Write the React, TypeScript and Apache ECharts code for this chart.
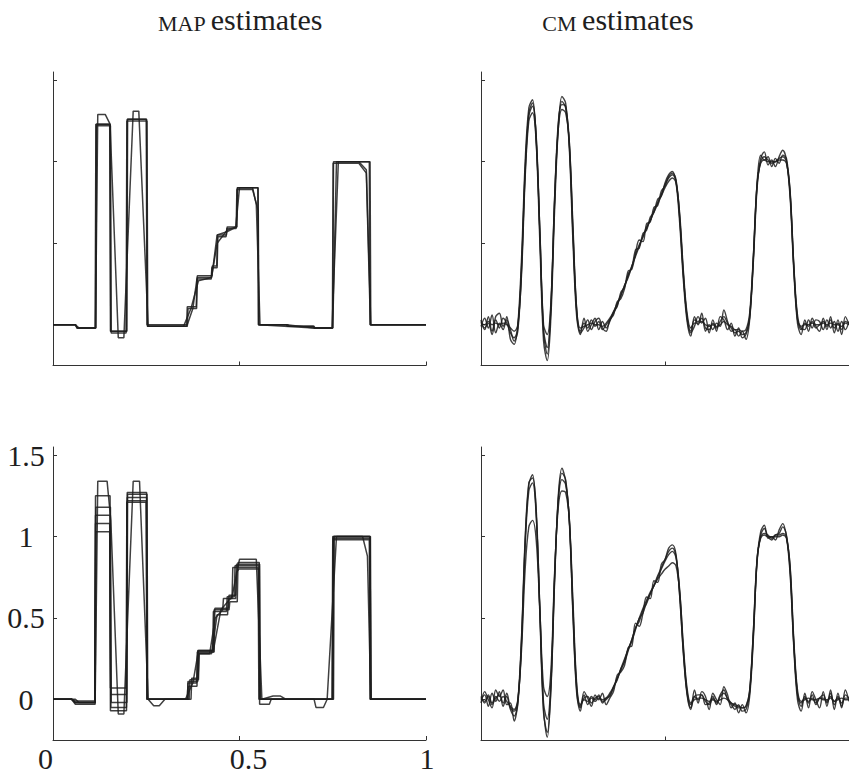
import React, { useEffect, useRef } from "react";
import * as echarts from "echarts";

// ---------- tick labels ----------
const X_TICKS = [0, 0.5, 1];
const Y_TICKS = [0, 0.5, 1, 1.5];
const X_LABELS = ["0", "0.5", "1"];
const Y_LABELS = ["0", "0.5", "1", "1.5"];
const TITLE_LEFT = "MAP";
const TITLE_RIGHT = "CM";
const TITLE_SUFFIX = "estimates";

// ---------- shared x grid for CM estimates ----------
const XS = [
  0.0, 0.01, 0.02, 0.03, 0.04, 0.05, 0.06, 0.07, 0.08, 0.09,
  0.1, 0.11, 0.12, 0.13, 0.14, 0.15, 0.16, 0.17, 0.18, 0.19,
  0.2, 0.21, 0.22, 0.23, 0.24, 0.25, 0.26, 0.27, 0.28, 0.29,
  0.3, 0.31, 0.32, 0.33, 0.34, 0.35, 0.36, 0.37, 0.38, 0.39,
  0.4, 0.41, 0.42, 0.43, 0.44, 0.45, 0.46, 0.47, 0.48, 0.49,
  0.5, 0.51, 0.52, 0.53, 0.54, 0.55, 0.56, 0.57, 0.58, 0.59,
  0.6, 0.61, 0.62, 0.63, 0.64, 0.65, 0.66, 0.67, 0.68, 0.69,
  0.7, 0.71, 0.72, 0.73, 0.74, 0.75, 0.76, 0.77, 0.78, 0.79,
  0.8, 0.81, 0.82, 0.83, 0.84, 0.85, 0.86, 0.87, 0.88, 0.89,
  0.9, 0.91, 0.92, 0.93, 0.94, 0.95, 0.96, 0.97, 0.98, 0.99, 1.0,
];

// ---------- CM estimates, top panel ----------
const cmTopA = [
  0.02, -0.03, 0.05, -0.04, 0.03, -0.02, 0.04, 0.01, -0.05, -0.08,
  -0.02, 0.35, 0.95, 1.3, 1.36, 1.15, 0.55, -0.05, -0.18, 0.1,
  0.75, 1.22, 1.37, 1.33, 1.1, 0.55, 0.08, -0.04, 0.01, -0.02,
  0.03, -0.01, 0.02, -0.03, 0.0, 0.03, 0.07, 0.12, 0.18, 0.24,
  0.29, 0.36, 0.43, 0.49, 0.54, 0.6, 0.64, 0.7, 0.75, 0.8,
  0.86, 0.9, 0.92, 0.88, 0.65, 0.3, 0.05, -0.04, 0.03, 0.02,
  0.04, -0.02, -0.03, 0.01, -0.02, 0.02, 0.05, 0.01, -0.02, -0.05,
  -0.04, -0.06, -0.05, 0.05, 0.4, 0.85, 1.0, 1.03, 1.01, 0.99,
  1.0, 1.02, 1.03, 1.0, 0.8, 0.35, 0.04, -0.03, 0.01, -0.01,
  0.02, -0.02, 0.0, 0.02, -0.01, 0.03, -0.02, 0.01, -0.03, 0.02, 0.01,
];
const cmTopB = [
  -0.01, 0.04, -0.02, 0.06, -0.05, 0.01, -0.03, 0.05, -0.09, -0.12,
  0.0, 0.4, 1.0, 1.33, 1.38, 1.12, 0.5, -0.1, -0.22, 0.05,
  0.7, 1.2, 1.4, 1.36, 1.08, 0.5, 0.05, -0.06, 0.04, -0.04,
  0.0, 0.04, -0.03, 0.02, -0.02, 0.02, 0.08, 0.11, 0.2, 0.23,
  0.31, 0.35, 0.46, 0.47, 0.56, 0.58, 0.66, 0.69, 0.77, 0.79,
  0.87, 0.92, 0.94, 0.87, 0.62, 0.27, 0.02, -0.07, 0.05, 0.0,
  0.07, -0.04, 0.0, -0.03, 0.01, -0.01, 0.09, 0.02, -0.04, -0.03,
  -0.07, -0.04, -0.09, 0.03, 0.38, 0.83, 1.02, 1.06, 0.98, 1.01,
  0.97, 1.03, 1.07, 1.01, 0.78, 0.33, 0.01, -0.06, 0.03, -0.04,
  0.04, -0.01, -0.04, 0.04, -0.03, 0.05, -0.05, 0.03, -0.06, 0.05, 0.0,
];
const cmTopC = [
  0.01, 0.0, 0.02, 0.0, 0.01, 0.0, 0.01, 0.0, -0.02, -0.04,
  0.0, 0.3, 0.9, 1.25, 1.3, 1.12, 0.58, 0.0, -0.06, 0.14,
  0.78, 1.2, 1.32, 1.3, 1.12, 0.6, 0.1, -0.02, -0.01, 0.0,
  0.01, 0.0, 0.0, -0.01, 0.01, 0.04, 0.08, 0.13, 0.18, 0.24,
  0.3, 0.36, 0.42, 0.48, 0.54, 0.59, 0.64, 0.69, 0.74, 0.79,
  0.84, 0.88, 0.9, 0.87, 0.68, 0.33, 0.07, -0.02, 0.01, 0.01,
  0.02, 0.0, -0.01, 0.0, -0.01, 0.0, 0.02, 0.0, -0.01, -0.03,
  -0.03, -0.04, -0.03, 0.07, 0.42, 0.86, 0.99, 1.01, 1.0, 1.0,
  1.0, 1.01, 1.01, 0.99, 0.82, 0.37, 0.06, -0.01, 0.0, 0.0,
  0.01, 0.0, 0.0, 0.01, 0.0, 0.01, 0.0, 0.0, -0.01, 0.01, 0.0,
];
const cmTopD = [
  0.03, -0.02, 0.01, -0.06, 0.05, 0.07, -0.01, 0.03, -0.03, -0.1,
  -0.04, 0.33, 0.93, 1.28, 1.34, 1.16, 0.57, -0.03, -0.14, 0.12,
  0.77, 1.24, 1.35, 1.34, 1.12, 0.57, 0.09, -0.05, -0.02, 0.03,
  -0.03, 0.02, 0.04, -0.02, -0.04, 0.03, 0.06, 0.14, 0.16, 0.22,
  0.33, 0.34, 0.44, 0.52, 0.51, 0.62, 0.63, 0.72, 0.73, 0.82,
  0.85, 0.91, 0.93, 0.89, 0.66, 0.31, 0.04, -0.05, -0.01, 0.05,
  0.01, 0.04, -0.05, 0.03, -0.04, 0.05, 0.03, -0.03, 0.01, -0.07,
  -0.02, -0.08, -0.06, 0.04, 0.41, 0.86, 1.04, 1.01, 1.03, 0.97,
  1.02, 0.99, 1.04, 1.02, 0.81, 0.36, 0.03, -0.02, -0.03, 0.03,
  -0.02, 0.03, 0.02, -0.03, 0.03, -0.02, 0.02, -0.04, 0.02, -0.03, 0.02,
];

// ---------- CM estimates, bottom panel ----------
const cmBotA = [
  0.0, 0.03, -0.04, 0.04, -0.01, 0.05, -0.04, 0.02, -0.06, -0.1,
  -0.03, 0.36, 0.97, 1.32, 1.38, 1.14, 0.52, -0.08, -0.2, 0.08,
  0.74, 1.23, 1.39, 1.35, 1.09, 0.53, 0.06, -0.05, 0.03, -0.03,
  0.02, 0.0, 0.03, -0.02, 0.01, 0.02, 0.08, 0.12, 0.19, 0.23,
  0.3, 0.37, 0.44, 0.48, 0.55, 0.59, 0.65, 0.7, 0.76, 0.81,
  0.86, 0.91, 0.93, 0.88, 0.64, 0.29, 0.04, -0.05, 0.02, 0.03,
  0.03, -0.03, -0.02, 0.02, -0.03, 0.03, 0.06, 0.0, -0.03, -0.06,
  -0.03, -0.07, -0.06, 0.04, 0.39, 0.84, 1.01, 1.05, 1.0, 0.98,
  1.01, 1.02, 1.06, 1.01, 0.79, 0.34, 0.03, -0.04, 0.02, -0.02,
  0.03, -0.03, 0.01, 0.03, -0.02, 0.04, -0.03, 0.02, -0.04, 0.03, 0.01,
];
const cmBotB = [
  0.01, -0.01, 0.03, -0.02, 0.02, -0.01, 0.02, -0.01, -0.04, -0.06,
  0.0, 0.3, 0.8, 1.06, 1.1, 0.98, 0.55, 0.08, 0.02, 0.18,
  0.78, 1.18, 1.28, 1.27, 1.1, 0.6, 0.1, -0.03, 0.0, -0.01,
  0.01, -0.01, 0.01, 0.0, 0.01, 0.04, 0.08, 0.13, 0.19, 0.25,
  0.31, 0.37, 0.44, 0.5, 0.56, 0.61, 0.66, 0.7, 0.74, 0.77,
  0.8, 0.82, 0.84, 0.82, 0.66, 0.33, 0.07, -0.02, 0.0, 0.01,
  0.01, 0.0, -0.01, 0.0, -0.01, 0.0, 0.01, 0.0, -0.02, -0.03,
  -0.04, -0.05, -0.04, 0.06, 0.42, 0.86, 0.99, 1.01, 1.0, 1.0,
  1.0, 1.0, 1.01, 0.99, 0.82, 0.37, 0.06, -0.01, 0.0, 0.01,
  0.0, 0.0, 0.01, 0.0, 0.0, 0.01, -0.01, 0.0, 0.01, 0.0, 0.0,
];
const cmBotC = [
  -0.02, 0.05, 0.0, -0.05, 0.06, 0.02, 0.06, -0.03, -0.02, -0.13,
  -0.01, 0.38, 0.99, 1.33, 1.36, 1.17, 0.54, -0.06, -0.23, 0.06,
  0.72, 1.25, 1.42, 1.34, 1.11, 0.51, 0.04, -0.07, 0.05, 0.01,
  -0.04, 0.03, 0.0, 0.04, -0.03, 0.01, 0.05, 0.15, 0.17, 0.21,
  0.32, 0.33, 0.47, 0.45, 0.53, 0.63, 0.62, 0.73, 0.72, 0.83,
  0.86, 0.93, 0.95, 0.89, 0.63, 0.28, 0.03, -0.06, 0.06, -0.02,
  0.05, 0.02, -0.06, 0.04, 0.0, -0.03, 0.08, 0.03, -0.05, -0.02,
  -0.08, -0.03, -0.08, 0.02, 0.37, 0.85, 1.03, 1.07, 0.99, 1.0,
  0.98, 1.04, 1.08, 1.0, 0.77, 0.32, 0.0, -0.07, 0.04, -0.05,
  0.05, 0.0, -0.05, 0.05, -0.04, 0.06, -0.06, 0.04, -0.05, 0.06, -0.01,
];
const cmBotD = [
  0.02, -0.02, 0.02, -0.03, 0.01, 0.03, -0.02, 0.04, -0.05, -0.07,
  -0.01, 0.34, 0.94, 1.28, 1.33, 1.13, 0.56, -0.02, -0.12, 0.11,
  0.76, 1.22, 1.35, 1.32, 1.11, 0.56, 0.08, -0.04, 0.01, 0.02,
  -0.02, 0.01, 0.02, -0.01, 0.0, 0.03, 0.07, 0.13, 0.18, 0.24,
  0.31, 0.36, 0.43, 0.5, 0.53, 0.6, 0.65, 0.7, 0.75, 0.8,
  0.85, 0.89, 0.91, 0.87, 0.67, 0.31, 0.05, -0.03, 0.02, 0.0,
  0.03, -0.01, -0.03, 0.01, -0.02, 0.02, 0.04, 0.01, -0.02, -0.04,
  -0.05, -0.05, -0.04, 0.05, 0.41, 0.85, 1.0, 1.02, 1.01, 0.99,
  1.01, 1.01, 1.02, 1.0, 0.81, 0.35, 0.04, -0.02, 0.01, -0.01,
  0.01, -0.02, 0.01, 0.01, -0.01, 0.02, -0.01, 0.01, -0.02, 0.01, 0.01,
];

// ---------- MAP estimates, top panel: [x, y] breakpoints ----------
const mapTopA = [
  [0, 0], [0.06, 0], [0.065, -0.02], [0.114, -0.02], [0.116, 1.23], [0.153, 1.23],
  [0.155, -0.04], [0.197, -0.04], [0.199, 1.26], [0.251, 1.26], [0.253, -0.01],
  [0.36, -0.01], [0.362, 0.1], [0.385, 0.1], [0.387, 0.29], [0.425, 0.29],
  [0.427, 0.36], [0.439, 0.36], [0.441, 0.55], [0.465, 0.55], [0.467, 0.6],
  [0.492, 0.6], [0.494, 0.84], [0.55, 0.84], [0.552, 0], [0.626, 0], [0.628, -0.01],
  [0.698, -0.01], [0.7, -0.02], [0.75, -0.02], [0.752, 1.0], [0.85, 1.0], [0.852, 0], [1, 0],
];
const mapTopB = [
  [0, 0], [0.06, 0], [0.07, -0.02], [0.114, -0.02], [0.12, 1.29], [0.14, 1.29],
  [0.153, 1.23], [0.175, -0.08], [0.19, -0.08], [0.215, 1.31], [0.23, 1.31],
  [0.255, -0.01], [0.35, -0.01], [0.37, 0.1], [0.39, 0.27], [0.425, 0.29],
  [0.44, 0.5], [0.467, 0.58], [0.49, 0.6], [0.5, 0.84], [0.535, 0.84], [0.545, 0.74],
  [0.555, 0], [0.626, 0], [0.7, -0.02], [0.75, -0.02], [0.76, 1.0], [0.82, 1.0],
  [0.84, 0.95], [0.852, 0], [1, 0],
];
const mapTopC = [
  [0, 0], [0.06, 0], [0.065, -0.02], [0.113, -0.02], [0.115, 1.23], [0.152, 1.23],
  [0.154, -0.04], [0.198, -0.04], [0.2, 1.26], [0.25, 1.26], [0.252, 0], [0.36, 0],
  [0.375, 0.1], [0.387, 0.3], [0.426, 0.3], [0.44, 0.55], [0.466, 0.57], [0.493, 0.6],
  [0.495, 0.84], [0.549, 0.84], [0.551, 0], [0.7, -0.02], [0.748, -0.02], [0.765, 1.0],
  [0.848, 1.0], [0.85, 0], [1, 0],
];
const mapTopD = [
  [0, 0], [0.06, 0], [0.064, -0.02], [0.115, -0.02], [0.117, 1.22], [0.154, 1.22],
  [0.156, -0.05], [0.196, -0.05], [0.198, 1.25], [0.252, 1.25], [0.254, -0.01],
  [0.358, -0.01], [0.36, 0.11], [0.384, 0.11], [0.386, 0.28], [0.424, 0.28],
  [0.426, 0.35], [0.44, 0.35], [0.442, 0.54], [0.464, 0.54], [0.466, 0.59],
  [0.491, 0.59], [0.493, 0.83], [0.535, 0.83], [0.55, 0.7], [0.551, 0], [0.63, 0],
  [0.632, -0.01], [0.7, -0.01], [0.702, -0.02], [0.749, -0.02], [0.751, 0.99],
  [0.82, 0.99], [0.84, 0.93], [0.851, 0], [1, 0],
];

// ---------- MAP estimates, bottom panel ----------
const mapBotA = [
  [0, 0], [0.05, 0], [0.06, -0.02], [0.112, -0.02], [0.114, 1.25], [0.153, 1.25],
  [0.155, -0.05], [0.197, -0.05], [0.199, 1.27], [0.251, 1.27], [0.253, 0], [0.36, 0],
  [0.362, 0.1], [0.385, 0.1], [0.387, 0.29], [0.43, 0.29], [0.432, 0.55], [0.472, 0.55],
  [0.474, 0.6], [0.494, 0.6], [0.496, 0.84], [0.553, 0.84], [0.555, 0], [0.75, 0],
  [0.752, 1.0], [0.85, 1.0], [0.852, 0], [1, 0],
];
const mapBotB = [
  [0, 0], [0.05, 0], [0.06, -0.03], [0.113, -0.03], [0.115, 1.03], [0.152, 1.03],
  [0.154, 0.07], [0.196, 0.07], [0.198, 1.21], [0.25, 1.21], [0.252, 0], [0.365, 0],
  [0.367, 0.12], [0.39, 0.12], [0.392, 0.28], [0.425, 0.28], [0.44, 0.52], [0.468, 0.52],
  [0.47, 0.62], [0.49, 0.62], [0.492, 0.78], [0.498, 0.8], [0.552, 0.8], [0.554, -0.03],
  [0.58, -0.03], [0.585, 0], [0.75, 0], [0.752, 0.98], [0.848, 0.98], [0.85, 0], [1, 0],
];
const mapBotC = [
  [0, 0], [0.06, 0], [0.07, -0.02], [0.113, -0.02], [0.12, 1.34], [0.145, 1.34],
  [0.155, 1.1], [0.175, -0.09], [0.19, -0.09], [0.215, 1.34], [0.232, 1.34],
  [0.255, 0], [0.27, -0.04], [0.285, -0.04], [0.3, 0], [0.355, 0], [0.375, 0.1],
  [0.39, 0.3], [0.43, 0.3], [0.45, 0.55], [0.48, 0.63], [0.5, 0.86], [0.545, 0.86],
  [0.56, 0], [0.59, 0.02], [0.61, 0.02], [0.625, 0], [0.7, 0], [0.705, -0.05],
  [0.725, -0.05], [0.735, 0], [0.76, 1.0], [0.83, 1.0], [0.843, 0.88], [0.852, 0], [1, 0],
];
const mapBotD = [
  [0, 0], [0.05, 0], [0.06, -0.02], [0.112, -0.02], [0.114, 1.13], [0.153, 1.13],
  [0.155, 0.03], [0.197, 0.03], [0.199, 1.24], [0.251, 1.24], [0.253, 0], [0.362, 0],
  [0.364, 0.08], [0.386, 0.08], [0.388, 0.3], [0.428, 0.3], [0.43, 0.54], [0.465, 0.54],
  [0.467, 0.63], [0.486, 0.63], [0.488, 0.82], [0.552, 0.82], [0.554, 0], [0.748, 0],
  [0.75, 1.0], [0.851, 1.0], [0.853, 0], [1, 0],
];
const mapBotE = [
  [0, 0], [0.05, 0], [0.06, -0.02], [0.113, -0.02], [0.115, 1.18], [0.154, 1.18],
  [0.156, -0.02], [0.198, -0.02], [0.2, 1.26], [0.252, 1.26], [0.254, 0], [0.36, 0],
  [0.362, 0.11], [0.388, 0.11], [0.39, 0.29], [0.432, 0.29], [0.434, 0.56], [0.47, 0.56],
  [0.472, 0.64], [0.49, 0.64], [0.492, 0.83], [0.554, 0.83], [0.556, 0], [0.749, 0],
  [0.751, 0.99], [0.85, 0.99], [0.852, 0], [1, 0],
];
const mapBotF = [
  [0, 0], [0.05, 0], [0.06, -0.01], [0.112, -0.01], [0.114, 1.08], [0.152, 1.08],
  [0.154, -0.07], [0.197, -0.07], [0.199, 1.22], [0.25, 1.22], [0.252, 0], [0.37, 0],
  [0.372, 0.13], [0.389, 0.13], [0.391, 0.28], [0.42, 0.28], [0.435, 0.5], [0.455, 0.55],
  [0.457, 0.62], [0.48, 0.62], [0.482, 0.81], [0.55, 0.81], [0.552, 0], [0.752, 0],
  [0.754, 1.0], [0.849, 1.0], [0.851, 0], [1, 0],
];

const MAP_TOP = [mapTopA, mapTopB, mapTopC, mapTopD];
const MAP_BOT = [mapBotA, mapBotB, mapBotC, mapBotD, mapBotE, mapBotF];
const CM_TOP = [cmTopA, cmTopB, cmTopC, cmTopD];
const CM_BOT = [cmBotA, cmBotB, cmBotC, cmBotD];

const SERIF = "Liberation Serif";
const INK = "#1e1e1e";
const LABEL_FONT = { fontFamily: SERIF, fontSize: 30, color: INK };

export default function App() {
  const ref = useRef<HTMLDivElement>(null);

  useEffect(() => {
    if (!ref.current) return;
    const chart = echarts.init(ref.current, null, { renderer: "svg" });

    const grids = [
      { left: 53, top: 72, width: 373, height: 293.5 },
      { left: 481, top: 72, width: 373, height: 293.5 },
      { left: 53, top: 447, width: 373, height: 293.5 },
      { left: 481, top: 447, width: 373, height: 293.5 },
    ];

    const xRichKeys = ["a", "b", "c"];
    const xAxes = grids.map((_, i) => ({
      type: "value",
      gridIndex: i,
      min: 0,
      max: 1,
      axisLine: { show: true, onZero: false, lineStyle: { color: "#333", width: 1 } },
      axisTick: {
        show: true,
        inside: true,
        length: 4,
        customValues: X_TICKS,
        lineStyle: { color: "#333", width: 1 },
      },
      axisLabel: {
        show: i === 2,
        customValues: X_TICKS,
        formatter: (v: number) => {
          const k = X_TICKS.indexOf(v);
          return k < 0 ? "" : `{${xRichKeys[k]}|${X_LABELS[k]}}`;
        },
        ...LABEL_FONT,
        margin: 3,
        rich: {
          a: { ...LABEL_FONT, padding: [0, 15, 0, 0] },
          b: { ...LABEL_FONT, padding: [0, 0, 0, 18] },
          c: { ...LABEL_FONT, padding: [0, 0, 0, 2] },
        },
      },
      splitLine: { show: false },
    }));

    const yAxes = grids.map((_, i) => ({
      type: "value",
      gridIndex: i,
      min: -0.25,
      max: 1.55,
      axisLine: { show: true, onZero: false, lineStyle: { color: "#333", width: 1 } },
      axisTick: {
        show: true,
        inside: true,
        length: 4,
        customValues: Y_TICKS,
        lineStyle: { color: "#333", width: 1 },
      },
      axisLabel: {
        show: i === 2,
        customValues: Y_TICKS,
        formatter: (v: number) => Y_LABELS[Y_TICKS.indexOf(v)] ?? "",
        ...LABEL_FONT,
        align: "center",
        margin: 27,
      },
      splitLine: { show: false },
    }));

    const series: any[] = [];
    const addMap = (arrs: number[][][], gi: number) =>
      arrs.forEach((arr) =>
        series.push({
          type: "line",
          xAxisIndex: gi,
          yAxisIndex: gi,
          data: arr,
          symbol: "none",
          lineStyle: { color: INK, width: 1.5, opacity: 0.85 },
        })
      );
    const addCm = (arrs: number[][], gi: number) =>
      arrs.forEach((arr) =>
        series.push({
          type: "line",
          xAxisIndex: gi,
          yAxisIndex: gi,
          data: XS.map((x, k) => [x, arr[k]]),
          symbol: "none",
          smooth: 0.35,
          lineStyle: { color: INK, width: 1.4, opacity: 0.85 },
        })
      );
    addMap(MAP_TOP, 0);
    addCm(CM_TOP, 1);
    addMap(MAP_BOT, 2);
    addCm(CM_BOT, 3);

    const titleRich = {
      sc: { fontFamily: SERIF, fontSize: 22, fill: INK, verticalAlign: "bottom", lineHeight: 32 },
      n: { fontFamily: SERIF, fontSize: 30, fill: INK, verticalAlign: "bottom", lineHeight: 32 },
    };

    chart.setOption({
      animation: false,
      backgroundColor: "#ffffff",
      grid: grids,
      xAxis: xAxes,
      yAxis: yAxes,
      series,
      graphic: [
        {
          type: "text",
          x: 240,
          y: 18,
          style: {
            text: `{sc|${TITLE_LEFT} }{n|${TITLE_SUFFIX}}`,
            rich: titleRich,
            align: "center",
            verticalAlign: "middle",
            fill: INK,
            fontFamily: SERIF,
          },
        },
        {
          type: "text",
          x: 618,
          y: 18,
          style: {
            text: `{sc|${TITLE_RIGHT} }{n|${TITLE_SUFFIX}}`,
            rich: titleRich,
            align: "center",
            verticalAlign: "middle",
            fill: INK,
            fontFamily: SERIF,
          },
        },
      ],
    });

    return () => chart.dispose();
  }, []);

  return (
    <div
      ref={ref}
      style={{ position: "fixed", left: 0, top: 0, width: 849, height: 773, background: "#fff" }}
    />
  );
}
